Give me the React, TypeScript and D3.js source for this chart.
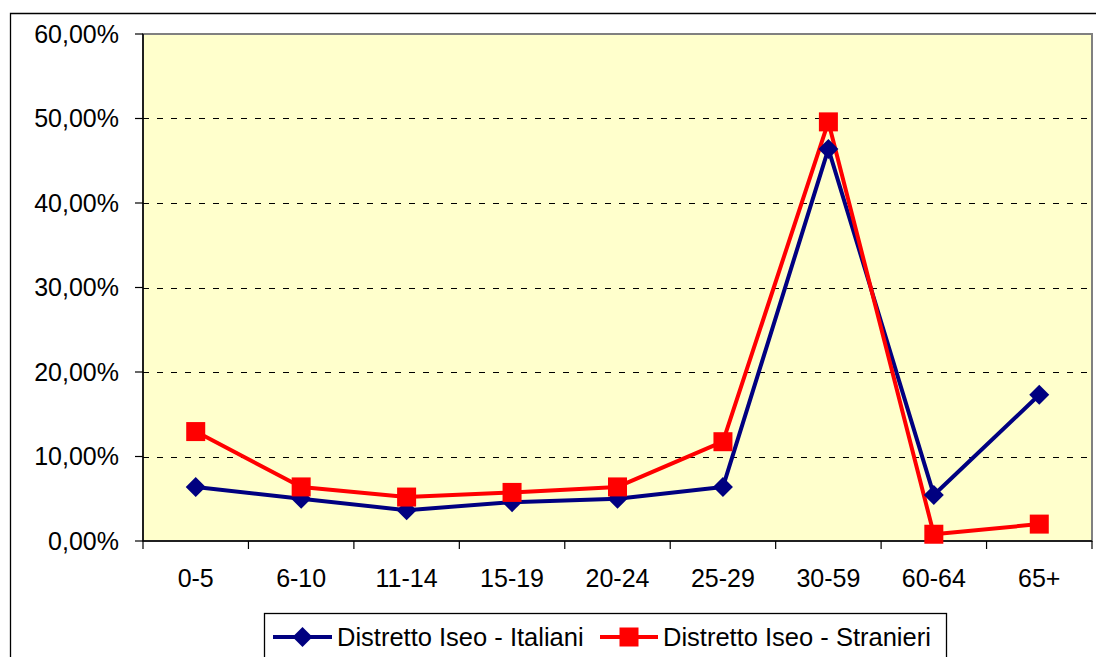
import React from "react";
import * as d3 from "d3";

const categories = ["0-5", "6-10", "11-14", "15-19", "20-24", "25-29", "30-59", "60-64", "65+"];
const italiani = [6.4, 5.0, 3.65, 4.6, 5.0, 6.4, 46.4, 5.45, 17.3];
const stranieri = [12.95, 6.4, 5.2, 5.75, 6.4, 11.75, 49.6, 0.8, 2.0];
const yTicks = [0, 10, 20, 30, 40, 50, 60];
const seriesNames = ["Distretto Iseo - Italiani", "Distretto Iseo - Stranieri"];

const W = 1096, H = 657;
const plot = { left: 143, right: 1092, top: 34, bottom: 541 };
const FONT = "'Liberation Sans', Arial, sans-serif";
const FS = 25;

export default function App() {
  const x = d3.scaleBand<string>().domain(categories).range([plot.left, plot.right]);
  const y = d3.scaleLinear().domain([0, 60]).range([plot.bottom, plot.top]);
  const cx = (c: string) => (x(c) as number) + x.bandwidth() / 2;
  const line = d3.line<number>().x((_, i) => cx(categories[i])).y((d) => y(d));
  const fmt = (v: number) => v.toFixed(2).replace(".", ",") + "%";
  const diamond = (px: number, py: number, r: number) =>
    `M${px},${py - r}L${px + r},${py}L${px},${py + r}L${px - r},${py}Z`;
  const sq = 19;
  const boundaries = categories.map((c) => x(c) as number).concat([plot.right]);

  return (
    <svg width={W} height={H} style={{ position: "absolute", left: 0, top: 0 }} fontFamily={FONT}>
      <rect x={0} y={0} width={W} height={H} fill="#fff" />
      {/* outer border */}
      <path d={`M10.5,${H + 2}V13.5H${W + 2}`} fill="none" stroke="#000" strokeWidth={1.3} />
      {/* plot area */}
      <rect x={plot.left} y={plot.top} width={plot.right - plot.left} height={plot.bottom - plot.top}
        fill="#FFFFCC" stroke="#808080" strokeWidth={2} />
      {/* gridlines */}
      {yTicks.filter((t) => t > 0 && t < 60).map((t) => (
        <line key={t} x1={plot.left} x2={plot.right} y1={Math.round(y(t)) + 0.5} y2={Math.round(y(t)) + 0.5}
          stroke="#000" strokeWidth={1} strokeDasharray="6,8" />
      ))}
      {/* axes */}
      <line x1={plot.left} x2={plot.left} y1={plot.top} y2={plot.bottom} stroke="#000" strokeWidth={1.5} />
      <line x1={plot.left} x2={plot.right} y1={plot.bottom} y2={plot.bottom} stroke="#000" strokeWidth={1.5} />
      {yTicks.map((t) => (
        <g key={t}>
          <line x1={plot.left - 8} x2={plot.left} y1={y(t)} y2={y(t)} stroke="#000" strokeWidth={1.2} />
          <text x={119} y={y(t)} dy="0.35em" textAnchor="end" fontSize={FS}>{fmt(t)}</text>
        </g>
      ))}
      {boundaries.map((b, i) => (
        <line key={i} x1={b} x2={b} y1={plot.bottom} y2={plot.bottom + 8} stroke="#000" strokeWidth={1.2} />
      ))}
      {categories.map((c) => (
        <text key={c} x={cx(c)} y={587} textAnchor="middle" fontSize={FS}>{c}</text>
      ))}
      {/* series */}
      <path d={line(italiani) as string} fill="none" stroke="#000080" strokeWidth={4} strokeLinejoin="round" />
      <path d={line(stranieri) as string} fill="none" stroke="#FF0000" strokeWidth={4} strokeLinejoin="round" />
      {italiani.map((v, i) => (
        <path key={"i" + i} d={diamond(cx(categories[i]), y(v), 10)} fill="#000080" />
      ))}
      {stranieri.map((v, i) => (
        <rect key={"s" + i} x={cx(categories[i]) - sq / 2} y={y(v) - sq / 2} width={sq} height={sq} fill="#FF0000" />
      ))}
      {/* legend */}
      <rect x={264.5} y={613.5} width={682} height={60} fill="#fff" stroke="#000" strokeWidth={1.3} />
      <line x1={273} x2={332} y1={637} y2={637} stroke="#000080" strokeWidth={4} />
      <path d={diamond(302.5, 637, 10)} fill="#000080" />
      <text x={337} y={637} dy="0.35em" fontSize={25.5}>{seriesNames[0]}</text>
      <line x1={600} x2={658} y1={637} y2={637} stroke="#FF0000" strokeWidth={4} />
      <rect x={629 - sq / 2} y={637 - sq / 2} width={sq} height={sq} fill="#FF0000" />
      <text x={663} y={637} dy="0.35em" fontSize={25.5}>{seriesNames[1]}</text>
    </svg>
  );
}
